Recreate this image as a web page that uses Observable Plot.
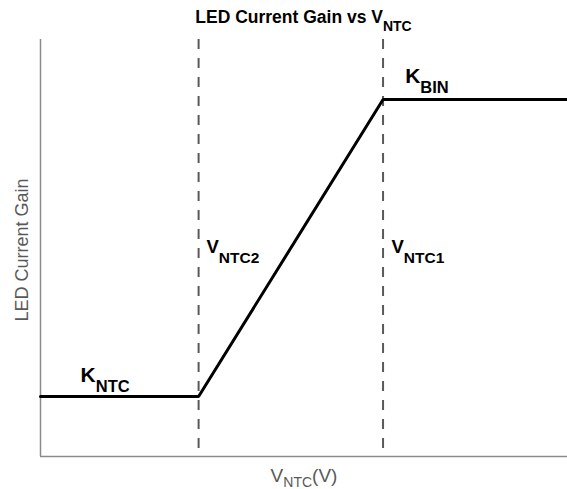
<!DOCTYPE html>
<html><head><meta charset="utf-8">
<script src="https://cdn.jsdelivr.net/npm/d3@7"></script>
<script src="https://cdn.jsdelivr.net/npm/@observablehq/plot@0.6"></script>
<style>
body{margin:0;background:#fff;font-family:"Liberation Sans",Arial,sans-serif;}
#title{margin-left:40px;width:527px;height:38px;box-sizing:border-box;padding-top:7px;text-align:center;font-weight:bold;font-size:17.5px;line-height:20px;color:#000;}
#title sub{font-size:14px;vertical-align:-8px;line-height:0;}
svg{display:block;}
</style></head><body>
<div id="title">LED Current Gain vs V<sub>NTC</sub></div>
<div id="chart"></div>
<script>
// piecewise characteristic (x in % of VNTC span, y in % of gain span)
const vntc = [0, 30, 65, 100];
const gain = [14.4, 14.4, 85.6, 85.6];
const thresholds = [30, 65];
// gain level labels
const kText = ["K_NTC", "K_BIN"];
const kX = [7.6, 69.2];
const kY = [17.8, 89.5];
// threshold labels
const vText = ["V_NTC2", "V_NTC1"];
const vX = [31.5, 66.6];
const vY = [48.9, 48.9];
const yLabel = "LED Current Gain";
const xLabel = "V_NTC_(V)";

const curve = vntc.map((v, i) => ({v, g: gain[i]}));
const kLabels = kText.map((t, i) => ({t, x: kX[i], y: kY[i]}));
const vLabels = vText.map((t, i) => ({t, x: vX[i], y: vY[i]}));

const chart = Plot.plot({
  width: 567,
  height: 451,
  marginTop: 1,
  marginBottom: 33,
  marginLeft: 40,
  marginRight: 0,
  x: {domain: [0, 100], axis: null},
  y: {domain: [0, 100], axis: null},
  style: {fontFamily: "'Liberation Sans', Arial, sans-serif", background: "#fff"},
  marks: [
    Plot.ruleX(thresholds, {stroke: "#595959", strokeWidth: 2, strokeDasharray: "10,9"}),
    Plot.ruleX([0], {stroke: "#8a8a8a", strokeWidth: 1.5}),
    Plot.ruleY([0], {stroke: "#8a8a8a", strokeWidth: 1.5}),
    Plot.line(curve, {x: "v", y: "g", stroke: "#000", strokeWidth: 3, strokeLinejoin: "miter"}),
    Plot.text(kLabels, {x: "x", y: "y", text: "t", textAnchor: "start", lineAnchor: "bottom", fontSize: 21, fontWeight: "bold", fill: "#000"}),
    Plot.text(vLabels, {x: "x", y: "y", text: "t", textAnchor: "start", lineAnchor: "bottom", fontSize: 18.5, fontWeight: "bold", fill: "#000"}),
    Plot.text([yLabel], {frameAnchor: "left", dx: -18, dy: 2, rotate: -90, textAnchor: "middle", lineAnchor: "middle", text: d => d, fontSize: 18, fill: "#595959"}),
    Plot.text([xLabel], {frameAnchor: "bottom", dx: 0, dy: 25, textAnchor: "middle", lineAnchor: "bottom", text: d => d, fontSize: 19, fill: "#595959"})
  ]
});
document.getElementById("chart").appendChild(chart);

function subscriptify(svg) {
  d3.select(svg).selectAll("text").each(function() {
    const t = this.textContent;
    if (!t.includes("_")) return;
    const cs = getComputedStyle(this);
    const fs = parseFloat(cs.fontSize);
    const bold = +cs.fontWeight >= 600;
    const subSize = bold ? (fs >= 20 ? 16.5 : 15.5) : 14;
    const subShift = bold ? 10 : 5;
    const parts = t.split("_");
    this.textContent = "";
    let shift = 0;
    parts.forEach((p, i) => {
      if (!p) return;
      const sub = i % 2 === 1;
      const target = sub ? subShift : 0;
      const ts = d3.select(this).append("tspan").text(p);
      if (sub) ts.attr("font-size", subSize);
      if (target !== shift) { ts.attr("dy", target - shift); shift = target; }
    });
  });
}
subscriptify(chart);
</script>
</body></html>
